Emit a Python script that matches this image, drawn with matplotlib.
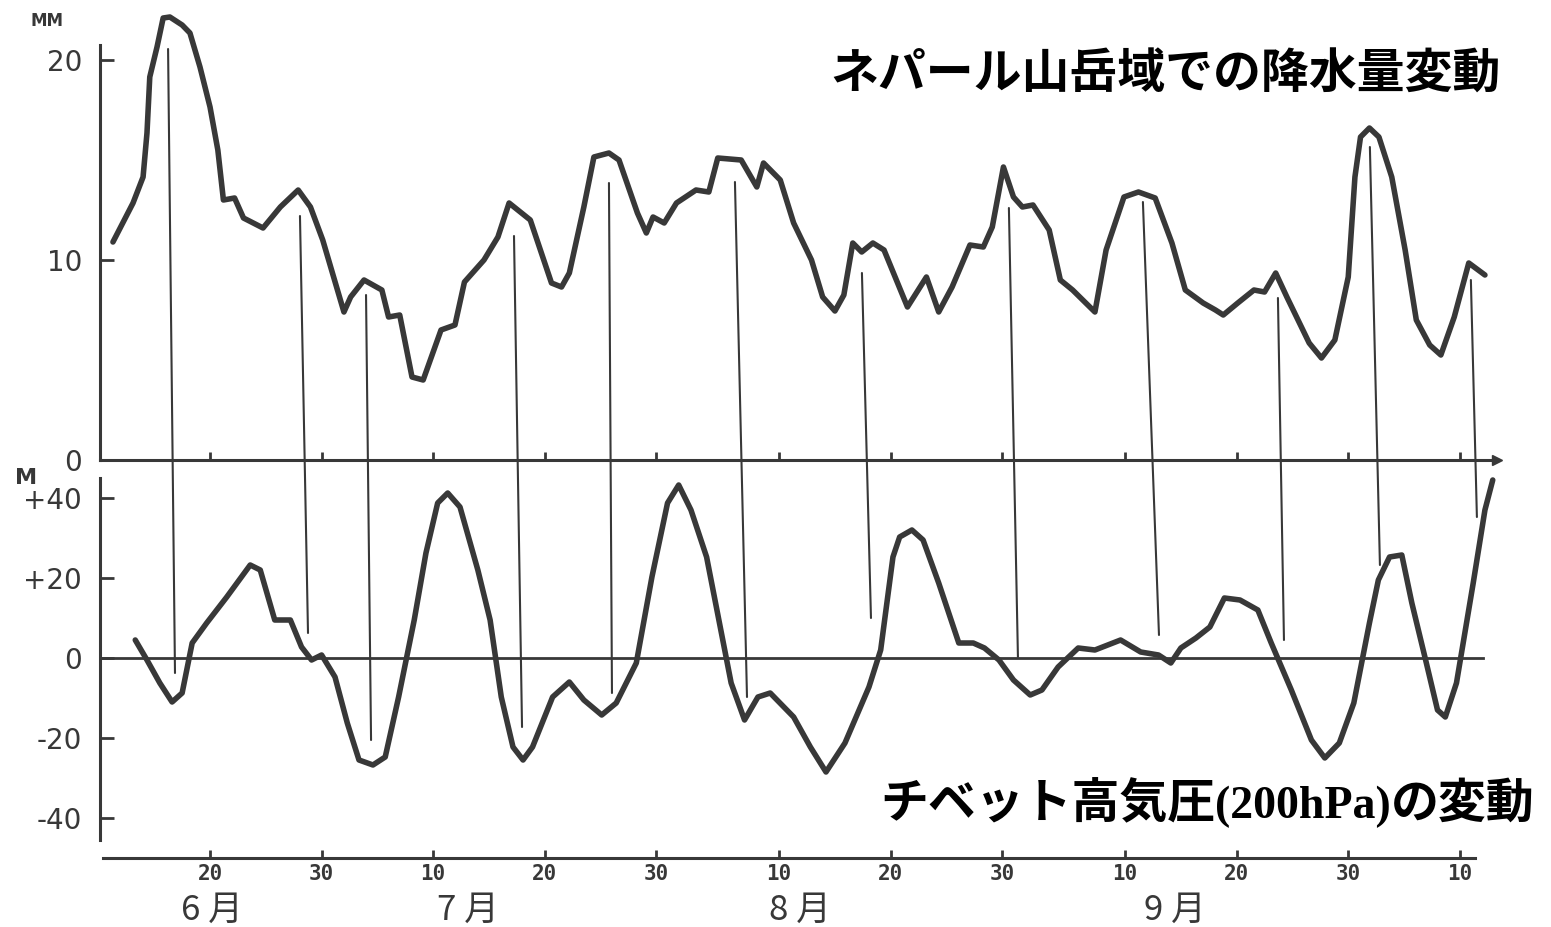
import matplotlib.pyplot as plt
from matplotlib.patches import ConnectionPatch

# day numbers are counted from 1 June (= day 0)
rain_day = [10.3, 12.1, 13.0, 13.35, 13.6, 14.25, 14.8, 15.4, 16.5, 17.2, 18.1, 19.0, 19.7, 20.2,
            21.2, 22.0, 23.75, 25.3, 26.9, 28.0, 29.1, 31.0, 31.6, 32.8, 34.4, 35.0, 36.0, 37.1,
            38.1, 39.7, 40.95, 41.8, 43.55, 44.8, 45.8, 47.7, 49.6, 50.5, 51.2, 52.5, 53.4, 54.75,
            55.65, 57.3, 58.1, 58.7, 59.7, 60.8, 62.55, 63.7, 64.5, 66.6, 68.0, 68.6, 70.1, 71.3,
            72.9, 73.9, 75.0, 75.8, 76.6, 77.4, 78.4, 79.4, 81.5, 83.2, 84.3, 85.5, 87.1, 88.3,
            89.1, 90.1, 91.0, 91.8, 92.75, 94.2, 95.2, 96.3, 98.3, 99.3, 100.9, 102.2, 103.7,
            105.2, 106.4, 108.0, 109.1, 109.8, 111.1, 112.55, 113.5, 114.5, 115.5, 117.5, 118.6,
            119.8, 121.0, 121.6, 122.1, 122.9, 123.75, 124.9, 126.1, 127.1, 128.3, 129.3, 130.5,
            131.8, 133.25]
rain_mm = [10.9, 12.85, 14.15, 16.35, 19.15, 20.65, 22.1, 22.15, 21.75, 21.35, 19.65, 17.65, 15.5, 13.0,
           13.1, 12.1, 11.6, 12.65, 13.5, 12.65, 11.0, 7.4, 8.15, 9.0, 8.5, 7.15, 7.25, 4.15,
           4.0, 6.5, 6.75, 8.9, 10.0, 11.15, 12.85, 12.0, 8.85, 8.65, 9.35, 12.65, 15.15, 15.35,
           15.0, 12.35, 11.35, 12.15, 11.85, 12.85, 13.5, 13.4, 15.1, 15.0, 13.65, 14.85, 14.0, 11.85,
           10.0, 8.15, 7.45, 8.25, 10.85, 10.4, 10.85, 10.5, 7.65, 9.15, 7.4, 8.65, 10.75, 10.65,
           11.65, 14.65, 13.15, 12.65, 12.75, 11.5, 9.0, 8.5, 7.4, 10.5, 13.15, 13.4, 13.1,
           10.85, 8.5, 7.85, 7.5, 7.25, 7.85, 8.5, 8.4, 9.35, 8.15, 5.85, 5.1,
           6.0, 9.15, 14.15, 16.15, 16.6, 16.15, 14.15, 10.5, 7.0, 5.75, 5.25, 7.15,
           9.85, 9.25]

# 200hPa height anomaly over the Tibetan high (m)
tib_day = [12.3, 13.35, 14.5, 15.6, 16.5, 17.4, 18.7, 20.5, 22.6, 23.5, 24.8, 26.2, 27.2, 28.1,
           29.0, 30.2, 31.3, 32.35, 33.6, 34.7, 35.9, 37.3, 38.35, 39.4, 40.3, 41.4, 43.0, 44.1,
           45.1, 46.15, 47.05, 47.9, 49.7, 51.2, 52.5, 54.1, 55.4, 57.2, 58.6, 60.0, 61.0, 62.1,
           63.5, 64.6, 65.7, 66.9, 68.1, 69.2, 71.3, 72.8, 74.2, 75.9, 78.05, 79.1, 80.2, 80.8,
           81.9, 82.9, 84.3, 86.1, 87.4, 88.4, 89.7, 91.0, 92.5, 93.55, 95.0, 96.8, 98.3, 100.6,
           102.4, 104.0, 105.1, 106.0, 107.35, 108.6, 109.9, 111.3, 112.9, 114.1, 115.9, 117.7,
           118.9, 120.2, 121.5, 122.9, 123.7, 124.7, 125.8, 126.7, 128.0, 129.0, 129.7, 130.7,
           132.2, 133.25, 133.95]
tib_m = [4.5, -0.5, -6.25, -11.0, -8.75, 3.75, 8.75, 15.25, 23.25, 22.0, 9.5, 9.5, 2.75, -0.5,
         0.75, -4.75, -16.25, -25.5, -26.75, -24.75, -9.75, 9.5, 26.25, 38.75, 41.25, 37.75, 22.0, 9.5,
         -9.75, -22.25, -25.5, -22.25, -9.75, -6.0, -10.5, -14.25, -11.25, -1.25, 20.25, 38.75, 43.25, 37.0,
         25.25, 9.5, -6.25, -15.5, -9.75, -8.75, -14.75, -22.25, -28.5, -21.25, -7.25, 2.0, 25.25, 30.25,
         32.0, 29.5, 18.75, 3.75, 3.75, 2.5, -0.5, -5.5, -9.25, -8.0, -2.25, 2.5, 2.0, 4.5,
         1.5, 0.75, -1.25, 2.5, 5.0, 7.75, 15.0, 14.5, 12.0, 3.75, -8.0, -20.5,
         -25.0, -21.25, -11.25, 8.75, 19.5, 25.25, 25.75, 13.75, -1.25, -13.0, -14.75, -6.25,
         18.75, 37.0, 44.5]

# guide lines joining each rainfall peak to the 200hPa curve
link_day_top = [15.24, 27.06, 32.98, 46.24, 54.75, 66.04, 77.42, 90.59, 102.6, 114.7, 122.94, 131.99]
link_mm = [20.55, 12.2, 8.25, 11.2, 13.85, 13.9, 9.35, 12.6, 12.9, 8.1, 15.65, 9.0]
link_day_bot = [15.86, 27.78, 33.43, 46.96, 55.02, 67.12, 78.23, 91.4, 104.04, 115.24, 123.84, 132.53]
link_m = [-3.75, 6.25, -20.5, -17.25, -8.75, -9.75, 10.0, 0.25, 5.75, 4.5, 23.25, 35.25]

tick_days = [19, 29, 39, 49, 59, 70, 80, 90, 101, 111, 121, 131]
tick_labels = ['20', '30', '10', '20', '30', '10', '20', '30', '10', '20', '30', '10']
month_names = ['6 月', '7 月', '8 月', '9 月']
month_pos = [19.2, 42.1, 71.9, 105.5]

rain_ticks = [0, 10, 20]
tib_ticks = [-40, -20, 0, 20, 40]
tib_tick_labels = ['-40', '-20', '0', '+20', '+40']

W, H = 1551, 927
INK = '#383838'
CJK = ['Noto Sans CJK JP', 'DejaVu Sans']

plt.rcParams['font.family'] = CJK


def style_axis(ax):
    for side in ['top', 'right']:
        ax.spines[side].set_visible(False)
    for side in ['left', 'bottom']:
        ax.spines[side].set_color(INK)
        ax.spines[side].set_linewidth(2.2)
    ax.tick_params(axis='y', direction='in', length=10, width=2, color=INK,
                   labelsize=20, labelcolor=INK, pad=13)
    ax.tick_params(axis='x', direction='in', length=6, width=2, color=INK)
    for lab in ax.get_yticklabels():
        lab.set_family('DejaVu Sans')
    ax.set_xlim(9.14, 134.6)
    ax.patch.set_alpha(0)


fig = plt.figure(figsize=(W / 100, H / 100), dpi=100)
fig.patch.set_facecolor('white')

# --- upper panel: rainfall (mm) ---
ax1 = fig.add_axes([100 / W, 1 - 460 / H, 1400 / W, 460 / H])
ax1.plot(rain_day, rain_mm, color=INK, lw=4.0, solid_joinstyle='round', solid_capstyle='round')
ax1.set_ylim(0, 23)
ax1.set_yticks(rain_ticks)
ax1.set_yticklabels([str(v) for v in rain_ticks])
ax1.set_xticks(tick_days)
ax1.set_xticklabels([])
style_axis(ax1)
ax1.spines['left'].set_bounds(0, 20.75)
ax1.spines['bottom'].set_bounds(9.14, 134.3)
ax1.plot([134.3], [0], marker='>', ms=7, color=INK, clip_on=False)
ax1.text(-0.038, 0.955, 'MM', transform=ax1.transAxes, fontsize=12, fontweight='bold',
         family='DejaVu Sans', color=INK, ha='center', va='center')

# --- lower panel: 200hPa height anomaly (m) ---
ax2 = fig.add_axes([100 / W, 1 - 858 / H, 1400 / W, 388 / H])
ax2.plot(tib_day, tib_m, color=INK, lw=4.0, solid_joinstyle='round', solid_capstyle='round')
ax2.plot([9.14, 133.07], [0, 0], color=INK, lw=2)
ax2.set_ylim(-50, 47)
ax2.set_yticks(tib_ticks)
ax2.set_yticklabels(tib_tick_labels)
ax2.set_xticks(tick_days)
ax2.set_xticklabels(tick_labels, fontsize=15, fontweight='bold', family='DejaVu Sans Mono', color=INK)
style_axis(ax2)
ax2.tick_params(axis='x', pad=4)
ax2.spines['left'].set_bounds(-45.5, 45)
ax2.spines['bottom'].set_bounds(9.41, 132.35)
ax2.text(-0.053, 0.98, 'M', transform=ax2.transAxes, fontsize=16, fontweight='bold',
         family='DejaVu Sans', color=INK, ha='center', va='center')

for name, pos in zip(month_names, month_pos):
    ax2.text(pos, -0.135, name, transform=ax2.get_xaxis_transform(), fontsize=25,
             color=INK, ha='center', va='center')

# guide lines run across both panels
for dt, vt, db, vb in zip(link_day_top, link_mm, link_day_bot, link_m):
    con = ConnectionPatch(xyA=(dt, vt), coordsA=ax1.transData,
                          xyB=(db, vb), coordsB=ax2.transData,
                          color=INK, lw=1.5)
    fig.add_artist(con)

# --- headings ---
fig.text(830 / W, 1 - 89 / H, 'ネパール山岳域での降水量変動', fontsize=34.5,
         fontweight='bold', va='baseline', ha='left', color='black')

base = 1 - 818 / H
fig.canvas.draw()
x = 880
parts = [('チベット高気圧', CJK, 34.5), ('(200hPa)', ['Liberation Serif'], 33), ('の変動', CJK, 34.5)]
for txt, fam, size in parts:
    t = fig.text(x / W, base, txt, fontsize=size, fontweight='bold', family=fam,
                 va='baseline', ha='left', color='black')
    x = t.get_window_extent(fig.canvas.get_renderer()).x1

fig.savefig('out.png', dpi=100)
